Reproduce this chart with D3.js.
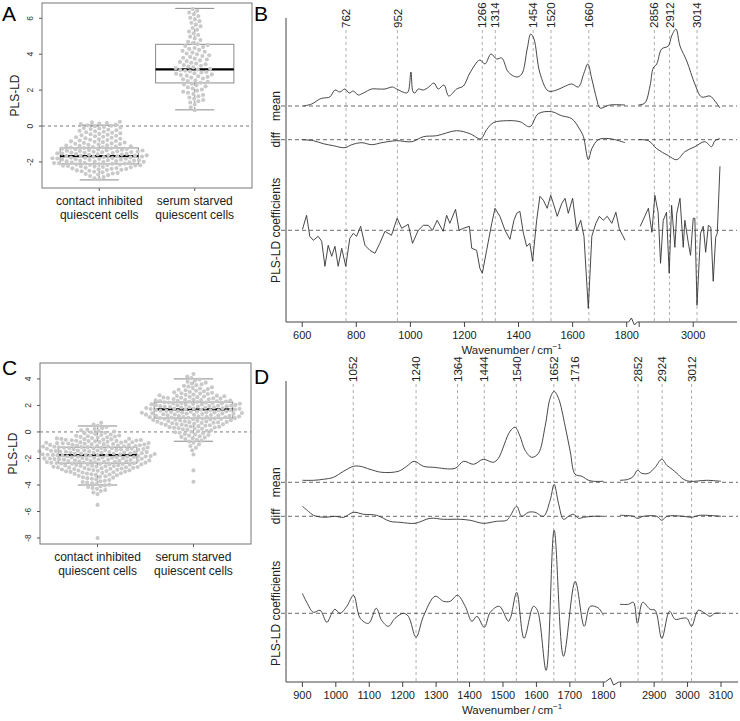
<!DOCTYPE html>
<html><head><meta charset="utf-8">
<script src="https://cdn.jsdelivr.net/npm/d3@7"></script>
<style>body{margin:0;background:#fff}svg{display:block;font-family:"Liberation Sans",Arial,Helvetica,sans-serif}</style>
</head><body>
<script>
// ---------------- DATA ----------------
const groups = ["contact inhibited\nquiescent cells", "serum starved\nquiescent cells"];

// Panel A: box statistics and histogram of PLS-LD scores (bins)
const aStats = [
  {q1:-2.11, med:-1.67, q3:-1.22, lo:-3.0, hi:0.05},
  {q1:2.4, med:3.15, q3:4.55, lo:0.9, hi:6.55}
];
const aBinStart = [-3.0, 0.8];
const aBinStep = [0.25, 0.48];
const aCounts1 = [4,8,13,18,19,18,17,13,11,9,9,8,8];
const aCounts2 = [3,7,8,10,14,11,10,9,5,5,5,5];
const aYTicks = [-2,0,2,4,6];

// Panel C
const cStats = [
  {q1:-2.35, med:-1.75, q3:-1.15, lo:-4.0, hi:0.45},
  {q1:1.05, med:1.7, q3:2.25, lo:-0.7, hi:4.0}
];
const cBinStart = [-4.75, -1.5];
const cBinStep = [0.25, 0.25];
const cCounts1 = [2,3,4,5,5,7,10,13,15,17,18,19,19,18,18,17,15,9,6,5,3,2];
const cCounts2 = [1,2,2,4,5,6,7,10,12,14,16,16,16,16,15,13,11,8,6,5,4,3,2,1];
const cExtra1 = [-5.5, -8.0];
const cExtra2 = [-1.7, -2.9, -3.75];
const cYTicks = [-8,-6,-4,-2,0,2,4];

// Panel B spectra [wavenumber, value]
const bPeaks = [762,952,1266,1314,1454,1520,1660,2856,2912,3014];
const bTicksLo = [600,800,1000,1200,1400,1600,1800];
const bTicksHi = [2800,3000];
const bMeanLo = [[604,0],[635,0.02],[665,0.07],[678,0.08],[702,0.09],[721,0.16],[739,0.14],[758,0.17],[774,0.13],[789,0.15],[807,0.11],[826,0.13],[857,0.17],[881,0.17],[906,0.17],[934,0.19],[949,0.17],[986,0.13],[993,0.15],[1002,0.34],[1010,0.14],[1017,0.13],[1029,0.17],[1048,0.16],[1068,0.19],[1087,0.23],[1103,0.17],[1124,0.21],[1142,0.10],[1171,0.17],[1196,0.20],[1220,0.33],[1257,0.46],[1276,0.42],[1298,0.52],[1319,0.47],[1338,0.48],[1362,0.34],[1393,0.29],[1412,0.32],[1432,0.57],[1445,0.72],[1457,0.67],[1479,0.33],[1510,0.15],[1541,0.16],[1566,0.19],[1597,0.22],[1621,0.19],[1642,0.33],[1656,0.42],[1671,0.27],[1689,0.07],[1701,-0.02],[1738,0.01],[1794,0.01]];
const bMeanHi = [[2797,0.01],[2821,0.03],[2840,0.2],[2852,0.38],[2865,0.42],[2883,0.57],[2908,0.6],[2920,0.7],[2936,0.77],[2951,0.6],[2976,0.45],[3006,0.22],[3031,0.09],[3062,0.1],[3080,0.05],[3099,-0.02]];
const bDiffLo = [[598,0],[641,-0.01],[678,-0.04],[715,-0.06],[758,-0.08],[783,-0.05],[820,-0.03],[857,-0.05],[894,-0.03],[949,-0.01],[1005,-0.02],[1048,0.03],[1097,0.04],[1171,0.09],[1220,0.06],[1260,0.01],[1282,0.1],[1307,0.17],[1356,0.19],[1405,0.18],[1442,0.13],[1473,0.26],[1522,0.28],[1559,0.24],[1597,0.21],[1627,0.1],[1640,0.03],[1658,-0.2],[1671,-0.09],[1695,0],[1738,0.01],[1794,-0.03]];
const bDiffHi = [[2797,0],[2834,-0.01],[2865,-0.09],[2908,-0.16],[2939,-0.2],[2969,-0.12],[3006,-0.07],[3043,-0.02],[3068,-0.07],[3080,-0.01],[3099,0.01]];
const bCoefLo = [[601,0.01],[616,0.15],[628,-0.06],[641,-0.10],[659,-0.06],[672,-0.11],[684,-0.36],[696,-0.15],[709,-0.26],[721,-0.16],[733,-0.36],[746,-0.18],[761,-0.36],[776,-0.08],[789,-0.03],[801,-0.06],[816,0.04],[832,-0.15],[850,-0.2],[869,-0.23],[887,-0.13],[906,-0.01],[930,-0.05],[951,0.12],[968,0.02],[992,0.06],[1008,-0.13],[1029,0.0],[1048,0.05],[1066,0.05],[1082,0.0],[1099,0.1],[1121,-0.01],[1134,0.15],[1146,0.07],[1167,0.21],[1180,0.0],[1196,0.02],[1218,0.04],[1227,-0.18],[1245,-0.2],[1257,-0.38],[1266,-0.43],[1282,-0.2],[1301,0.07],[1313,0.22],[1331,0.14],[1350,0.0],[1368,-0.09],[1383,0.10],[1393,0.17],[1405,0.19],[1418,-0.03],[1430,-0.16],[1442,-0.13],[1452,-0.31],[1467,0.10],[1479,0.34],[1492,0.30],[1506,0.22],[1519,0.35],[1531,0.25],[1543,0.14],[1560,0.27],[1572,0.32],[1584,0.17],[1600,0.32],[1615,0.0],[1630,0.10],[1642,-0.06],[1658,-0.78],[1671,-0.06],[1686,0.07],[1699,0.14],[1713,0.10],[1728,0.14],[1745,0.07],[1760,0.18],[1773,0.01],[1785,-0.05],[1794,-0.1]];
const bCoefHi = [[2804,0.04],[2834,0.22],[2847,-0.02],[2858,0.35],[2870,0.18],[2879,-0.33],[2889,0.10],[2901,0.18],[2911,-0.43],[2920,0.25],[2932,-0.17],[2939,0.17],[2951,0.32],[2963,-0.17],[2969,0.10],[2982,-0.13],[2990,-0.25],[3000,0.12],[3006,0.12],[3014,-0.75],[3027,-0.03],[3037,0.04],[3046,-0.22],[3056,0.05],[3065,0.03],[3074,-0.51],[3083,-0.07],[3089,-0.03],[3099,0.64]];

// Panel D spectra
const dPeaks = [1052,1240,1364,1444,1540,1652,1716,2852,2924,3012];
const dTicksLo = [900,1000,1100,1200,1300,1400,1500,1600,1700,1800];
const dTicksHi = [2800,2900,3000,3100];
const dMeanLo = [[900,0.02],[933,0.02],[963,0.03],[993,0.05],[1023,0.11],[1053,0.16],[1073,0.16],[1102,0.13],[1137,0.10],[1187,0.11],[1212,0.16],[1234,0.21],[1262,0.16],[1292,0.15],[1357,0.14],[1382,0.21],[1412,0.18],[1441,0.23],[1471,0.20],[1486,0.24],[1521,0.51],[1536,0.55],[1551,0.46],[1566,0.32],[1586,0.25],[1606,0.29],[1626,0.56],[1641,0.84],[1653,0.91],[1666,0.84],[1686,0.56],[1701,0.31],[1716,0.08],[1736,0.06],[1756,0.02],[1771,0.01],[1800,0.01]];
const dMeanHi = [[2798,0.02],[2823,0.03],[2838,0.06],[2850,0.12],[2863,0.09],[2883,0.09],[2903,0.15],[2923,0.23],[2938,0.17],[2954,0.13],[2968,0.09],[2988,0.03],[3007,0.01],[3057,0.02],[3100,0.01]];
const dDiffLo = [[900,0.10],[918,0.05],[933,0.01],[967,-0.01],[997,0.0],[1023,-0.01],[1053,0.04],[1083,0.02],[1122,0.01],[1162,-0.05],[1192,-0.06],[1237,-0.07],[1282,-0.02],[1322,-0.03],[1372,-0.03],[1402,-0.04],[1441,-0.07],[1481,-0.05],[1511,-0.04],[1521,0.0],[1541,0.10],[1556,0.0],[1576,0.04],[1596,0.04],[1621,0.0],[1641,0.16],[1653,0.32],[1666,0.13],[1681,-0.03],[1696,0.0],[1711,0.02],[1726,-0.02],[1741,-0.01],[1771,0.0],[1800,0.0]];
const dDiffHi = [[2798,0.01],[2838,0.0],[2850,-0.02],[2868,0.0],[2908,0.0],[2923,-0.04],[2938,0.0],[2988,0.0],[3012,-0.01],[3037,0.01],[3100,0.0]];
const dCoefLo = [[900,0.20],[913,0.11],[933,0.01],[953,0.03],[973,-0.09],[988,0.0],[997,0.04],[1013,0.0],[1033,0.07],[1053,0.18],[1073,-0.05],[1098,-0.10],[1121,0.05],[1137,-0.07],[1157,-0.13],[1177,-0.05],[1202,0.0],[1217,-0.03],[1240,-0.24],[1262,-0.03],[1297,0.17],[1322,0.12],[1342,0.12],[1364,0.18],[1387,0.07],[1407,-0.08],[1422,-0.03],[1444,-0.14],[1462,0.01],[1489,0.07],[1516,-0.08],[1523,-0.04],[1541,0.21],[1563,-0.25],[1591,0.07],[1603,0.03],[1629,-0.57],[1653,0.83],[1681,-0.43],[1716,0.32],[1743,-0.13],[1761,0.07],[1786,0.05],[1800,-0.02]];
const dCoefHi = [[2798,0.09],[2823,0.09],[2838,0.11],[2850,-0.10],[2866,0.11],[2888,0.04],[2903,0.03],[2923,-0.25],[2946,0.02],[2963,-0.06],[2983,-0.05],[2998,-0.05],[3012,-0.13],[3032,0.03],[3052,0.0],[3067,-0.03],[3082,0.0],[3100,0.0]];

const rowLabels = ["mean","diff","PLS-LD coefficients"];

// ---------------- DRAWING ----------------
const W = 740, H = 721;
const svg = d3.select("body").append("svg").attr("width", W).attr("height", H);
svg.append("rect").attr("width", W).attr("height", H).attr("fill", "#fff");

function binValues(start, step, counts, extra) {
  const vals = [];
  counts.forEach((n, i) => {
    const lo = start + i * step;
    for (let k = 0; k < n; k++) vals.push(lo + (k + 0.5) * step / n);
  });
  return vals.concat(extra || []);
}

function swarm(vals, y, d) {
  const pts = vals.map(v => ({v, y: y(v)})).sort((a, b) => a.v - b.v);
  const placed = [];
  for (const p of pts) {
    const near = placed.filter(q => Math.abs(q.y - p.y) < d);
    const cand = [0];
    near.forEach(q => {
      const dx = Math.sqrt(d * d - (q.y - p.y) ** 2);
      cand.push(q.x + dx, q.x - dx);
    });
    cand.sort((a, b) => Math.abs(a) - Math.abs(b) || a - b);
    for (const c of cand) {
      if (near.every(q => (q.x - c) ** 2 + (q.y - p.y) ** 2 >= d * d - 0.01)) { p.x = c; break; }
    }
    placed.push(p);
  }
  return placed;
}

function boxPanel(frame, yDom, yTicks, stats, valueSets, letter, spacing) {
  const g = svg.append("g");
  const y = d3.scaleLinear().domain(yDom).range([frame.b, frame.t]);
  const x = d3.scaleLinear().domain([0.4, 2.6]).range([frame.l, frame.r]);
  const bw = x(1.41) - x(1);
  g.append("line").attr("x1", frame.l).attr("x2", frame.r).attr("y1", y(0)).attr("y2", y(0))
    .attr("stroke", "#555").attr("stroke-dasharray", "3,3").attr("stroke-width", 0.8);
  stats.forEach((s, i) => {
    const cx = x(i + 1);
    const col = "#8a8a8a";
    g.append("rect").attr("x", cx - bw).attr("width", 2 * bw).attr("y", y(s.q3)).attr("height", y(s.q1) - y(s.q3))
      .attr("fill", "none").attr("stroke", col).attr("stroke-width", 1);
    [[s.q3, s.hi], [s.q1, s.lo]].forEach(([a, b]) => {
      g.append("line").attr("x1", cx).attr("x2", cx).attr("y1", y(a)).attr("y2", y(b))
        .attr("stroke", col).attr("stroke-dasharray", "3,3");
      g.append("line").attr("x1", cx - bw / 2).attr("x2", cx + bw / 2).attr("y1", y(b)).attr("y2", y(b))
        .attr("stroke", col);
    });
    g.append("line").attr("x1", cx - bw).attr("x2", cx + bw).attr("y1", y(s.med)).attr("y2", y(s.med))
      .attr("stroke", "#000").attr("stroke-width", 2.2);
    const pts = swarm(valueSets[i], y, spacing);
    g.append("g").selectAll("circle").data(pts).join("circle")
      .attr("cx", d => cx + d.x).attr("cy", d => d.y).attr("r", 2.05).attr("fill", "#c9c9c9");
    g.append("line").attr("x1", cx).attr("x2", cx).attr("y1", frame.b).attr("y2", frame.b + 3).attr("stroke", "#555");
    const lines = groups[i].split("\n");
    lines.forEach((t, k) => g.append("text").attr("x", cx).attr("y", frame.b + 17 + k * 14)
      .attr("text-anchor", "middle").attr("font-size", 12).attr("fill", "#222").text(t));
  });
  g.append("rect").attr("x", frame.l).attr("y", frame.t).attr("width", frame.r - frame.l).attr("height", frame.b - frame.t)
    .attr("fill", "none").attr("stroke", "#777").attr("stroke-width", 1);
  yTicks.forEach(t => {
    g.append("line").attr("x1", frame.l - 3).attr("x2", frame.l).attr("y1", y(t)).attr("y2", y(t)).attr("stroke", "#555");
    g.append("text").attr("transform", `translate(${frame.l - 12},${y(t)}) rotate(-90)`).attr("dy", "0.35em")
      .attr("text-anchor", "middle").attr("font-size", 8.5).attr("fill", "#333").text(t);
  });
  g.append("text").attr("transform", `translate(${frame.l - 23},${(frame.t + frame.b) / 2}) rotate(-90)`)
    .attr("text-anchor", "middle").attr("font-size", 12).attr("fill", "#222").text("PLS-LD");
  svg.append("text").attr("x", 2).attr("y", frame.t + 18 + (letter === "C" ? -6 : 0)).attr("font-size", 21).attr("fill", "#000").text(letter);
}

boxPanel({l: 42, r: 252, t: 3, b: 188}, [-3.45, 6.85], aYTicks, aStats,
  [binValues(aBinStart[0], aBinStep[0], aCounts1), binValues(aBinStart[1], aBinStep[1], aCounts2)], "A", 4.9);
boxPanel({l: 40, r: 251, t: 363, b: 544}, [-8.45, 5.2], cYTicks, cStats,
  [binValues(cBinStart[0], cBinStep[0], cCounts1, cExtra1), binValues(cBinStart[1], cBinStep[1], cCounts2, cExtra2)], "C", 4.5);

function specPanel(cfg) {
  const g = svg.append("g");
  const {top, bottom, left, right} = cfg;
  const xlo = d3.scaleLinear().domain(cfg.loDom).range(cfg.loRange);
  const xhi = d3.scaleLinear().domain(cfg.hiDom).range(cfg.hiRange);
  const xs = v => v < 2300 ? xlo(v) : xhi(v);
  const y = d3.scaleLinear().domain([0, cfg.span]).range([bottom, top]);
  const offs = cfg.offsets;
  cfg.peaks.forEach(p => {
    g.append("line").attr("x1", xs(p)).attr("x2", xs(p)).attr("y1", cfg.labelEnd + 2).attr("y2", bottom)
      .attr("stroke", "#999").attr("stroke-dasharray", "3,3").attr("stroke-width", 0.8);
    g.append("text").attr("transform", `translate(${xs(p)},${cfg.labelEnd}) rotate(-90)`).attr("dy", "0.36em")
      .attr("font-size", 11.5).attr("fill", "#222").text(p);
  });
  offs.forEach(o => g.append("line").attr("x1", left - 5).attr("x2", right).attr("y1", y(o)).attr("y2", y(o))
    .attr("stroke", "#444").attr("stroke-dasharray", "4,3").attr("stroke-width", 0.8));
  const series = [[cfg.meanLo, 0, true], [cfg.meanHi, 0, true], [cfg.diffLo, 1, true], [cfg.diffHi, 1, true],
                  [cfg.coefLo, 2, cfg.smoothCoef], [cfg.coefHi, 2, cfg.smoothCoef]];
  series.forEach(([data, k, smooth]) => {
    const line = d3.line().x(d => xs(d[0])).y(d => y(d[1] + offs[k]))
      .curve(smooth ? d3.curveCatmullRom.alpha(0.5) : d3.curveLinear);
    g.append("path").attr("d", line(data)).attr("fill", "none").attr("stroke", "#333").attr("stroke-width", 0.9);
  });
  g.append("line").attr("x1", left).attr("x2", left).attr("y1", top).attr("y2", bottom).attr("stroke", "#444");
  offs.forEach((o, k) => {
    g.append("text").attr("transform", `translate(${left - 6},${y(o)}) rotate(-90)`)
      .attr("text-anchor", "middle").attr("font-size", 12).attr("fill", "#222").text(rowLabels[k]);
  });
  const b0 = xlo(1800) + 2, b1 = xhi(2800) - 2, bm = (b0 + b1) / 2;
  const p = d3.path();
  p.moveTo(left, bottom); p.lineTo(b0, bottom);
  p.lineTo(bm - 1.5, bottom - 4); p.lineTo(bm + 1.5, bottom + 3); p.lineTo(b1, bottom);
  p.lineTo(right, bottom);
  g.append("path").attr("d", p.toString()).attr("fill", "none").attr("stroke", "#444");
  const ticks = cfg.ticksLo.map(t => [xlo(t), t]).concat(cfg.ticksHi.map(t => [xhi(t), t]));
  ticks.forEach(([px, t]) => {
    g.append("line").attr("x1", px).attr("x2", px).attr("y1", bottom).attr("y2", bottom + 5).attr("stroke", "#444");
    if (!(t === 2800)) g.append("text").attr("x", px).attr("y", bottom + 17).attr("text-anchor", "middle")
      .attr("font-size", 11).attr("fill", "#222").text(t);
  });
  const lab = g.append("text").attr("x", (left + right) / 2).attr("y", bottom + 32).attr("text-anchor", "middle")
    .attr("font-size", 11.5).attr("fill", "#222");
  lab.append("tspan").text("Wavenumber\u2009/\u2009cm");
  lab.append("tspan").attr("dy", -5).attr("font-size", 8).text("\u22121");
  svg.append("text").attr("x", 254).attr("y", top + 3).attr("font-size", 21).attr("fill", "#000").text(cfg.letter);
}

specPanel({top: 18, bottom: 322, left: 286, right: 737, span: 3.04, offsets: [2.16, 1.823, 0.917],
  loDom: [540, 1800], loRange: [286, 626.7], hiDom: [2800, 3162], hiRange: [639.2, 737],
  peaks: bPeaks, labelEnd: 28, ticksLo: bTicksLo, ticksHi: bTicksHi,
  meanLo: bMeanLo, meanHi: bMeanHi, diffLo: bDiffLo, diffHi: bDiffHi, coefLo: bCoefLo, coefHi: bCoefHi,
  smoothCoef: false, letter: "B"});
specPanel({top: 381, bottom: 682, left: 286, right: 738, span: 3.01, offsets: [1.997, 1.657, 0.687],
  loDom: [851, 1800], loRange: [286, 603.3], hiDom: [2800, 3150], hiRange: [620.7, 737.7],
  peaks: dPeaks, labelEnd: 382, ticksLo: dTicksLo, ticksHi: dTicksHi,
  meanLo: dMeanLo, meanHi: dMeanHi, diffLo: dDiffLo, diffHi: dDiffHi, coefLo: dCoefLo, coefHi: dCoefHi,
  smoothCoef: true, letter: "D"});
</script></body></html>
